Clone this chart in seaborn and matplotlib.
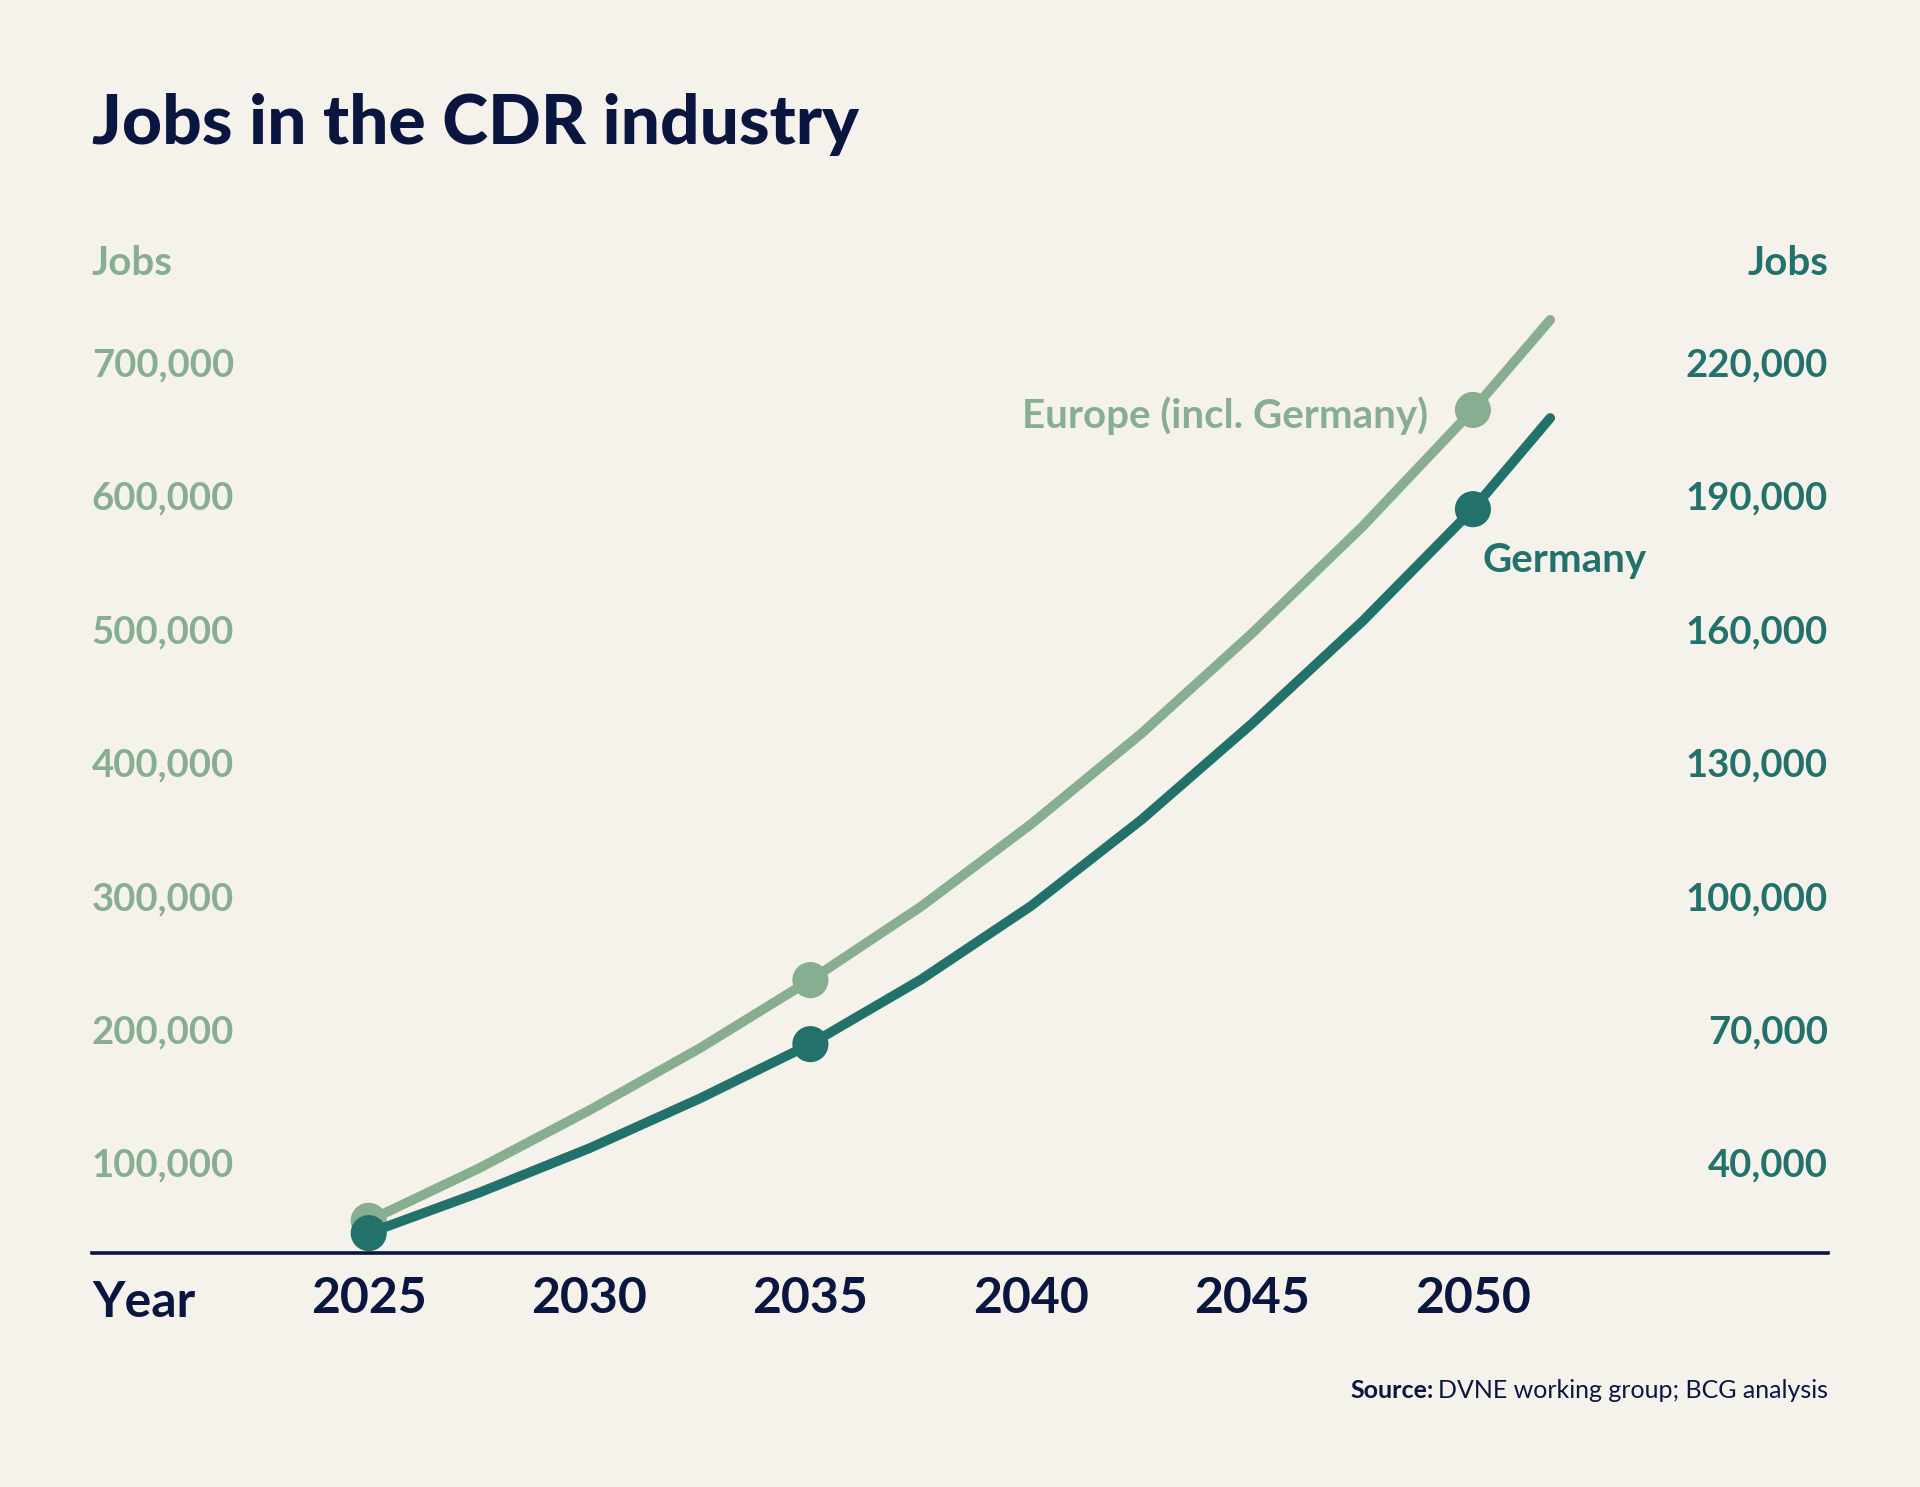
import pandas as pd
import seaborn as sns
import matplotlib.pyplot as plt
from matplotlib.ticker import FuncFormatter

# Values (every 2.5 years along the curves)
years = [2025, 2027.5, 2030, 2032.5, 2035, 2037.5, 2040, 2042.5, 2045,
         2047.5, 2050, 2051.75]
europe_jobs = [56600, 96000, 139500, 186000, 237000, 292000, 354000, 422000,
               497000, 577000, 664400, 731900]
germany_jobs = [24200, 33300, 43300, 54500, 66700, 81200, 97800, 117200,
                138800, 161800, 187000, 207500]
marked = [True, False, False, False, True, False, False, False, False, False,
          True, False]

year_ticks = [2025, 2030, 2035, 2040, 2045, 2050]
europe_ticks = [100000, 200000, 300000, 400000, 500000, 600000, 700000]
germany_ticks = [40000, 70000, 100000, 130000, 160000, 190000, 220000]

df = pd.DataFrame({"Year": years, "Europe": europe_jobs,
                   "Germany": germany_jobs, "marked": marked})

bg = "#F5F2EC"
navy = "#0B1640"
light = "#88AE92"
teal = "#23716B"

sns.set_theme(style="white")
plt.rcParams["font.family"] = ["Lato", "DejaVu Sans"]

fig = plt.figure(figsize=(19.2, 14.87), dpi=100)
fig.patch.set_facecolor(bg)
ax = fig.add_axes([0.0478, 0.1576, 0.9043, 0.6407])
ax.set_facecolor(bg)
ax2 = ax.twinx()

# Europe on the left axis
sns.lineplot(data=df, x="Year", y="Europe", ax=ax, color=light, linewidth=7,
             solid_capstyle="round", solid_joinstyle="round", zorder=2)
sns.scatterplot(data=df[df.marked], x="Year", y="Europe", ax=ax, color=light,
                s=26 ** 2, edgecolor="none", zorder=3, clip_on=False)

# Germany on the right axis
sns.lineplot(data=df, x="Year", y="Germany", ax=ax2, color=teal, linewidth=7,
             solid_capstyle="round", solid_joinstyle="round", zorder=2)
sns.scatterplot(data=df[df.marked], x="Year", y="Germany", ax=ax2, color=teal,
                s=26 ** 2, edgecolor="none", zorder=3, clip_on=False)

ax.set_xlim(2018.73, 2058.04)
ax.set_ylim(32700, 746850)
ax2.set_ylim(19810, 234055)

fmt = FuncFormatter(lambda v, p: f"{int(v):,}")
ax.set_xticks(year_ticks)
ax.set_xticklabels([str(y) for y in year_ticks])
ax.set_yticks(europe_ticks)
ax.yaxis.set_major_formatter(fmt)
ax2.set_yticks(germany_ticks)
ax2.yaxis.set_major_formatter(fmt)

ax.tick_params(axis="x", length=0, pad=17, labelsize=36, labelcolor=navy)
ax.tick_params(axis="y", length=0, pad=0, labelsize=27.5, labelcolor=light)
ax2.tick_params(axis="y", length=0, pad=0, labelsize=27.5, labelcolor=teal)
for lab in ax.get_xticklabels():
    lab.set_fontweight("bold")
for lab in ax.get_yticklabels():
    lab.set_fontweight("bold")
    lab.set_ha("left")
for lab in ax2.get_yticklabels():
    lab.set_fontweight("bold")
    lab.set_ha("right")

ax.set_xlabel("")
ax.set_ylabel("")
ax2.set_ylabel("")
ax.grid(False)
ax2.grid(False)
for a in (ax, ax2):
    for side in ["top", "left", "right"]:
        a.spines[side].set_visible(False)
ax2.spines["bottom"].set_visible(False)
ax.spines["bottom"].set_color(navy)
ax.spines["bottom"].set_linewidth(2.6)

# Series labels
end = df[df.Year == 2050].iloc[0]
ax.annotate("Europe (incl. Germany)", xy=(2050, end.Europe), xytext=(-32, -4),
            textcoords="offset points", ha="right", va="center",
            fontsize=29, fontweight="bold", color=light)
ax2.annotate("Germany", xy=(2050, end.Germany), xytext=(7, -37),
             textcoords="offset points", ha="left", va="center",
             fontsize=29, fontweight="bold", color=teal)

# Titles and axis captions
fig.text(92 / 1920, 1 - 144 / 1487, "Jobs in the CDR industry", ha="left",
         va="baseline", fontsize=50, fontweight="black", color=navy)
fig.text(92 / 1920, 1 - 275 / 1487, "Jobs", ha="left", va="baseline",
         fontsize=29, fontweight="bold", color=light)
fig.text(1828 / 1920, 1 - 275 / 1487, "Jobs", ha="right", va="baseline",
         fontsize=29, fontweight="bold", color=teal)
fig.text(92 / 1920, 1 - 1317 / 1487, "Year", ha="left", va="baseline",
         fontsize=36, fontweight="bold", color=navy)

# Source line, bold prefix + regular text
src = fig.text(1828 / 1920, 1 - 1390 / 1487, "DVNE working group; BCG analysis",
               ha="right", va="center", fontsize=18, color=navy)
fig.canvas.draw()
bb = src.get_window_extent()
fig.text(bb.x0 / 1920 - 0.002, 1 - 1390 / 1487, "Source:", ha="right", va="center",
         fontsize=18, fontweight="bold", color=navy)

plt.savefig("out.png", dpi=100, facecolor=bg)
